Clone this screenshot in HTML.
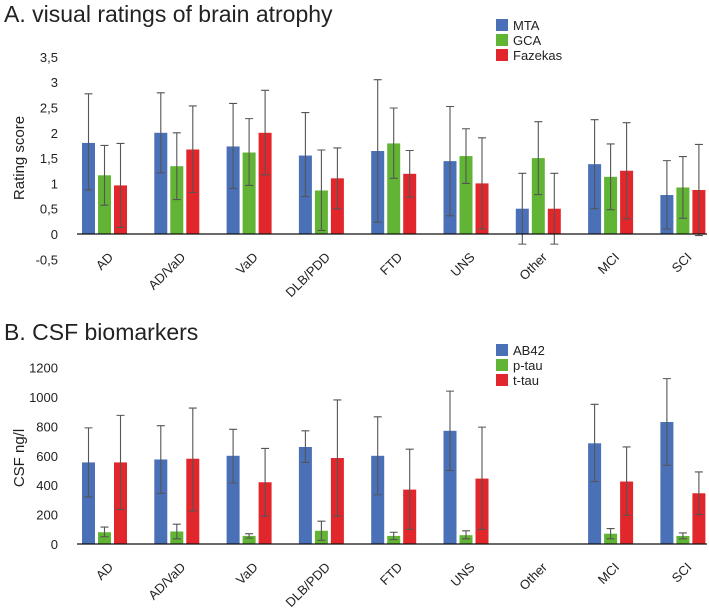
<!DOCTYPE html>
<html><head><meta charset="utf-8"><style>
body{margin:0;background:#fff;font-family:"Liberation Sans",sans-serif}
svg text{font-family:"Liberation Sans",sans-serif;fill:#222}
</style></head><body>
<svg id="s" width="709" height="607">
<text x="4" y="22" font-size="23">A. visual ratings of brain atrophy</text>
<text x="4" y="340" font-size="23">B. CSF biomarkers</text>
</svg>
<script>
const cats=["AD","AD/VaD","VaD","DLB/PDD","FTD","UNS","Other","MCI","SCI"];
const colors=["#4a70b8","#62b534","#e1272b"];
const aNames=["MTA","GCA","Fazekas"];
const aVals=[[1.8,2.0,1.73,1.55,1.64,1.44,0.5,1.38,0.77],[1.16,1.34,1.61,0.86,1.79,1.54,1.5,1.13,0.92],[0.96,1.67,2.0,1.1,1.19,1.0,0.5,1.25,0.87]];
const aLo=[[0.87,1.21,0.9,0.74,0.23,0.36,-0.2,0.5,0.1],[0.57,0.68,0.96,0.07,1.1,1.0,0.78,0.48,0.31],[0.13,0.82,1.17,0.5,0.73,0.1,-0.2,0.3,-0.03]];
const aHi=[[2.77,2.79,2.58,2.4,3.05,2.52,1.2,2.26,1.45],[1.75,2.0,2.28,1.66,2.49,2.08,2.22,1.78,1.53],[1.79,2.53,2.84,1.7,1.65,1.9,1.2,2.2,1.77]];
const aTicks=["-0,5","0","0,5","1","1,5","2","2,5","3","3,5"];
const aTickVals=[-0.5,0,0.5,1,1.5,2,2.5,3,3.5];
const bNames=["AB42","p-tau","t-tau"];
const bVals=[[555,575,600,660,600,770,null,685,830],[80,85,55,90,55,60,null,70,55],[555,580,420,585,370,445,null,425,345]];
const bLo=[[320,345,415,555,335,500,null,425,535],[50,35,40,25,30,35,null,35,35],[235,225,190,190,100,100,null,195,200]];
const bHi=[[790,805,780,770,865,1040,null,950,1125],[115,135,70,155,80,90,null,105,75],[875,925,650,980,645,795,null,660,490]];
const bTicks=["0","200","400","600","800","1000","1200"];
const bTickVals=[0,200,400,600,800,1000,1200];
const svg=document.getElementById('s');const NS="http://www.w3.org/2000/svg";
function mk(t,a,p){const e=document.createElementNS(NS,t);for(const k in a)e.setAttribute(k,a[k]);(p||svg).appendChild(e);return e;}
function chart(o){
  const y=v=>o.zero-v*o.scale;
  const g=mk('g',{});
  
  
  o.tickVals.forEach((v,i)=>{const t=mk('text',{x:58,y:y(v)+5,'text-anchor':'end','font-size':13},g);t.textContent=o.ticks[i];
    
    });
  const yt=mk('text',{x:0,y:0,'font-size':15,'text-anchor':'middle',transform:`translate(24,${o.ytY}) rotate(-90)`},g);yt.textContent=o.ytitle;
  
  
  cats.forEach((c,ci)=>{
    const gx=82+ci*72.3;
    for(let s=0;s<3;s++){
      const v=o.vals[s][ci];if(v==null)continue;
      const x=gx+s*16;
      const r=mk('rect',{x:x,y:Math.min(y(v),y(0)),width:13,height:Math.abs(y(v)-y(0)),fill:o.colors[s]},g);
      
      
      const cx=x+6.5,lo=y(o.lo[s][ci]),hi=y(o.hi[s][ci]);
      const e=mk('path',{d:`M${cx},${lo}V${hi}M${cx-4},${lo}h8M${cx-4},${hi}h8`,stroke:'#555','stroke-width':1.1,fill:'none'},g);
      
      
    }
    const lx=gx+24,ly=o.zero+o.labOff;
    const t=mk('text',{x:0,y:0,'font-size':13,'text-anchor':'end',transform:`translate(${lx+8},${ly}) rotate(-45)`},g);t.textContent=c;
    
    
  });
  const ax=mk('line',{x1:77,x2:707,y1:y(0),y2:y(0),stroke:'#111','stroke-width':1.3},g);
  
  
  o.names.forEach((n,i)=>{
    const r=mk('rect',{x:496,y:o.legY+i*15,width:12,height:12,fill:o.colors[i]},g);
    
    
    const t=mk('text',{x:513,y:o.legY+i*15+11,'font-size':13},g);t.textContent=n;
    
    
  });
}
chart({id:'a',zero:234,scale:50.6,vals:aVals,lo:aLo,hi:aHi,names:aNames,colors:colors,ticks:aTicks,tickVals:aTickVals,ytitle:'Rating score',ytY:158,legY:19,labOff:24});
chart({id:'b',zero:544,scale:0.147,vals:bVals,lo:bLo,hi:bHi,names:bNames,colors:colors,ticks:bTicks,tickVals:bTickVals,ytitle:'CSF ng/l',ytY:458,legY:344,labOff:24});
</script>
</body></html>
